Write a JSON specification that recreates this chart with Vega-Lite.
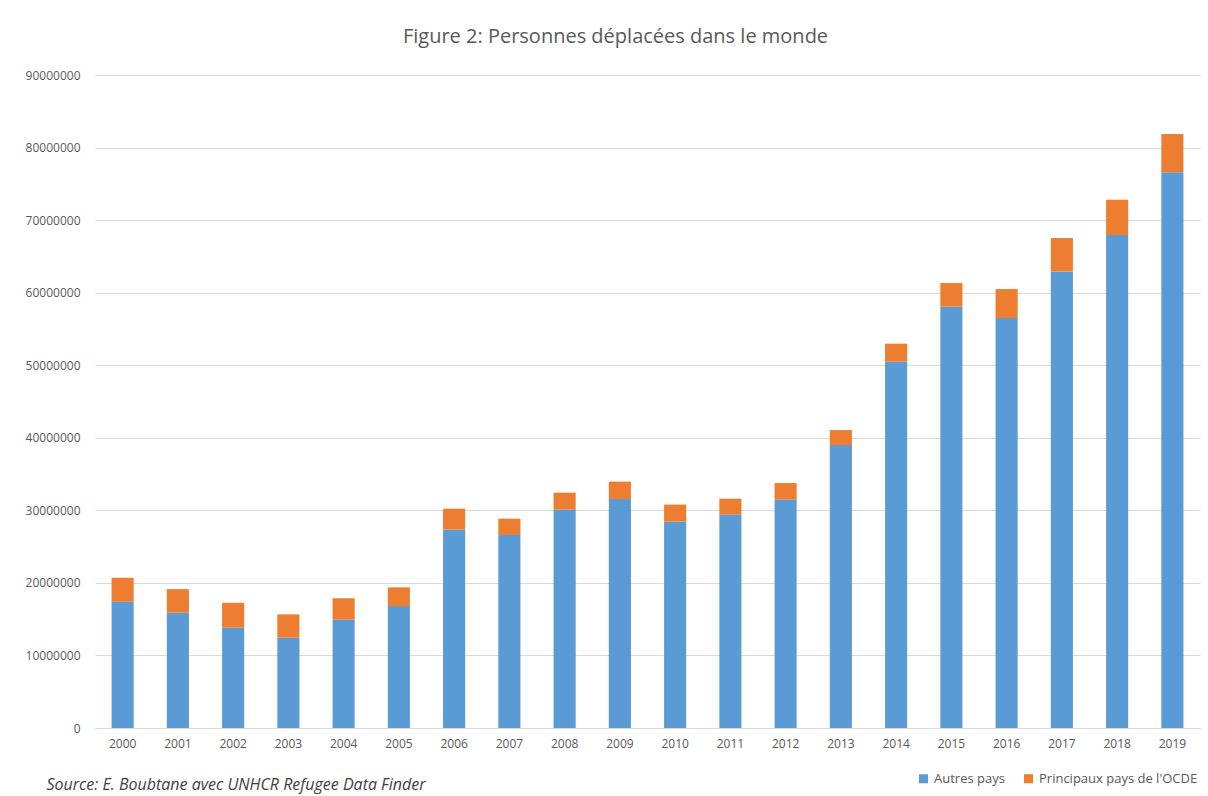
{
  "$schema": "https://vega.github.io/schema/vega-lite/v6.json",
  "autosize": "none",
  "width": 1105,
  "height": 653,
  "padding": {"left": 95, "top": 75, "right": 8, "bottom": 68},
  "background": "white",
  "title": {
    "text": "Figure 2: Personnes déplacées dans le monde",
    "anchor": "middle",
    "dx": -32,
    "offset": 22,
    "font": "Open Sans",
    "fontSize": 20,
    "fontWeight": "normal",
    "color": "#595959"
  },
  "data": {
    "values": [
      {"annee": "2000", "groupe": "Autres pays", "valeur": 17410000},
      {"annee": "2000", "groupe": "Principaux pays de l'OCDE", "valeur": 3310000},
      {"annee": "2001", "groupe": "Autres pays", "valeur": 15890000},
      {"annee": "2001", "groupe": "Principaux pays de l'OCDE", "valeur": 3250000},
      {"annee": "2002", "groupe": "Autres pays", "valeur": 13820000},
      {"annee": "2002", "groupe": "Principaux pays de l'OCDE", "valeur": 3450000},
      {"annee": "2003", "groupe": "Autres pays", "valeur": 12440000},
      {"annee": "2003", "groupe": "Principaux pays de l'OCDE", "valeur": 3220000},
      {"annee": "2004", "groupe": "Autres pays", "valeur": 14920000},
      {"annee": "2004", "groupe": "Principaux pays de l'OCDE", "valeur": 2980000},
      {"annee": "2005", "groupe": "Autres pays", "valeur": 16800000},
      {"annee": "2005", "groupe": "Principaux pays de l'OCDE", "valeur": 2580000},
      {"annee": "2006", "groupe": "Autres pays", "valeur": 27340000},
      {"annee": "2006", "groupe": "Principaux pays de l'OCDE", "valeur": 2890000},
      {"annee": "2007", "groupe": "Autres pays", "valeur": 26600000},
      {"annee": "2007", "groupe": "Principaux pays de l'OCDE", "valeur": 2250000},
      {"annee": "2008", "groupe": "Autres pays", "valeur": 30100000},
      {"annee": "2008", "groupe": "Principaux pays de l'OCDE", "valeur": 2340000},
      {"annee": "2009", "groupe": "Autres pays", "valeur": 31560000},
      {"annee": "2009", "groupe": "Principaux pays de l'OCDE", "valeur": 2400000},
      {"annee": "2010", "groupe": "Autres pays", "valeur": 28440000},
      {"annee": "2010", "groupe": "Principaux pays de l'OCDE", "valeur": 2350000},
      {"annee": "2011", "groupe": "Autres pays", "valeur": 29410000},
      {"annee": "2011", "groupe": "Principaux pays de l'OCDE", "valeur": 2200000},
      {"annee": "2012", "groupe": "Autres pays", "valeur": 31480000},
      {"annee": "2012", "groupe": "Principaux pays de l'OCDE", "valeur": 2290000},
      {"annee": "2013", "groupe": "Autres pays", "valeur": 38990000},
      {"annee": "2013", "groupe": "Principaux pays de l'OCDE", "valeur": 2070000},
      {"annee": "2014", "groupe": "Autres pays", "valeur": 50490000},
      {"annee": "2014", "groupe": "Principaux pays de l'OCDE", "valeur": 2480000},
      {"annee": "2015", "groupe": "Autres pays", "valeur": 58070000},
      {"annee": "2015", "groupe": "Principaux pays de l'OCDE", "valeur": 3260000},
      {"annee": "2016", "groupe": "Autres pays", "valeur": 56500000},
      {"annee": "2016", "groupe": "Principaux pays de l'OCDE", "valeur": 4000000},
      {"annee": "2017", "groupe": "Autres pays", "valeur": 62900000},
      {"annee": "2017", "groupe": "Principaux pays de l'OCDE", "valeur": 4630000},
      {"annee": "2018", "groupe": "Autres pays", "valeur": 67940000},
      {"annee": "2018", "groupe": "Principaux pays de l'OCDE", "valeur": 4880000},
      {"annee": "2019", "groupe": "Autres pays", "valeur": 76590000},
      {"annee": "2019", "groupe": "Principaux pays de l'OCDE", "valeur": 5280000}
    ]
  },
  "mark": {"type": "bar"},
  "encoding": {
    "x": {
      "field": "annee",
      "type": "ordinal",
      "scale": {"paddingInner": 0.6, "paddingOuter": 0.3},
      "axis": {
        "title": "Source: E. Boubtane avec UNHCR Refugee Data Finder",
        "titleFont": "Open Sans",
        "titleFontSize": 16,
        "titleFontStyle": "italic",
        "titleFontWeight": "normal",
        "titleColor": "#404040",
        "titleAnchor": "start",
        "titleAlign": "left",
        "titleBaseline": "alphabetic",
        "titleX": -49,
        "titleY": 61,
        "labelAngle": 0,
        "labelFont": "Open Sans",
        "labelFontSize": 12,
        "labelColor": "#595959",
        "labelPadding": 10,
        "ticks": false,
        "domainColor": "#d9d9d9",
        "domainWidth": 1
      }
    },
    "y": {
      "field": "valeur",
      "type": "quantitative",
      "stack": "zero",
      "scale": {"domain": [0, 90000000], "nice": false},
      "axis": {
        "title": null,
        "values": [0, 10000000, 20000000, 30000000, 40000000, 50000000, 60000000, 70000000, 80000000, 90000000],
        "format": "d",
        "labelFont": "Open Sans",
        "labelFontSize": 12,
        "labelColor": "#595959",
        "labelPadding": 15,
        "ticks": false,
        "domain": false,
        "gridColor": "#d9d9d9",
        "gridWidth": 1
      }
    },
    "color": {
      "field": "groupe",
      "type": "nominal",
      "scale": {
        "domain": ["Autres pays", "Principaux pays de l'OCDE"],
        "range": ["#5B9BD5", "#ED7D31"]
      },
      "legend": {
        "title": null,
        "orient": "none",
        "direction": "horizontal",
        "legendX": 822,
        "legendY": 697,
        "symbolType": "square",
        "symbolSize": 81,
        "symbolStrokeWidth": 0,
        "labelFont": "Open Sans",
        "labelFontSize": 13,
        "labelColor": "#595959",
        "labelOffset": 4,
        "columnPadding": 17
      }
    },
    "order": {"field": "groupe", "sort": "ascending"}
  },
  "config": {
    "view": {"stroke": null}
  }
}
